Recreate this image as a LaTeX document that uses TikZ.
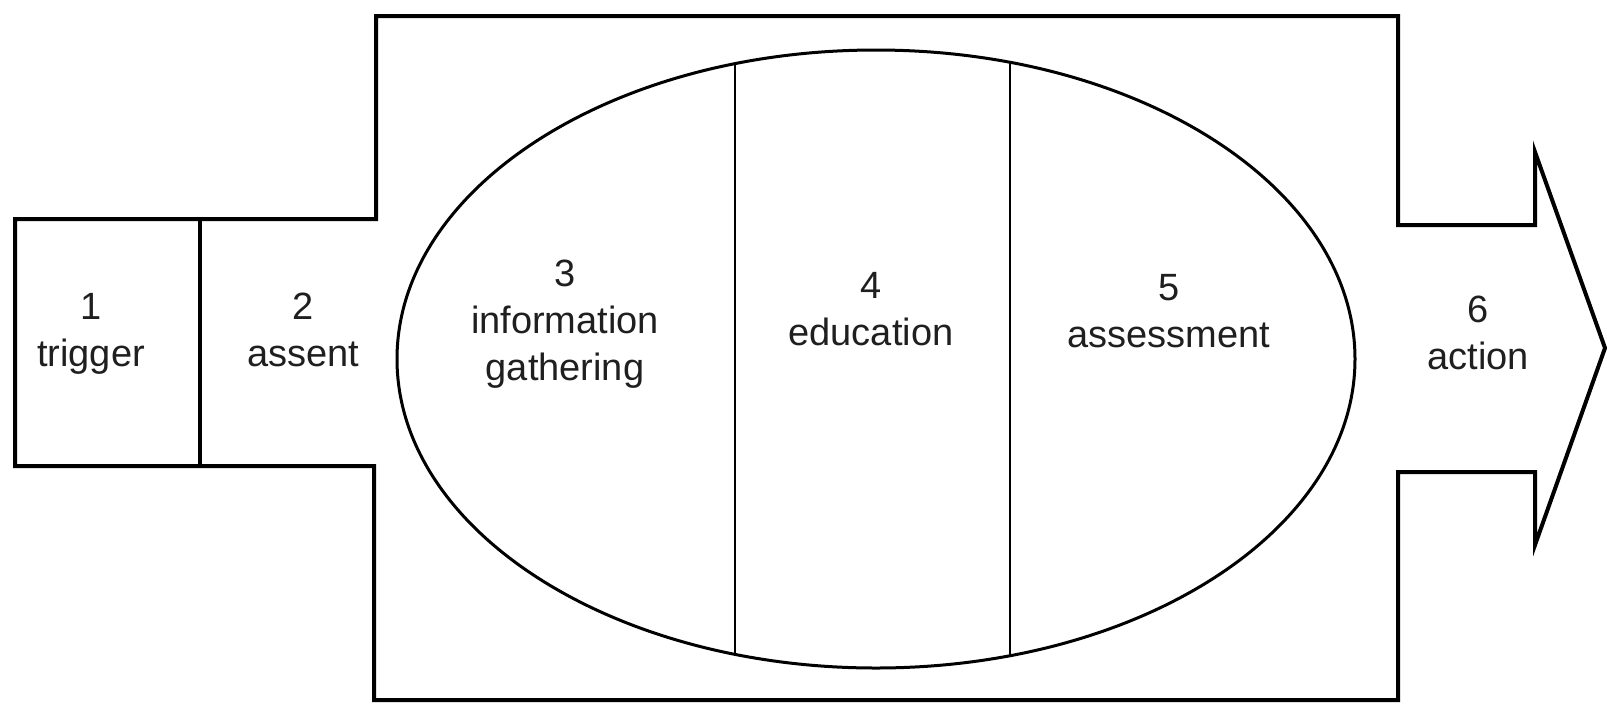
\documentclass[tikz,border=0pt]{standalone}
\usepackage{fontspec}
\setmainfont{Liberation Sans}
\usepackage{tikz}
\usetikzlibrary{shapes.geometric}
\tikzset{
    every node/.style={inner sep=0pt, align=center, anchor=base,
    	font=\fontsize{19}{23.5}\selectfont, text=black!88}
}
\tikzset{
    outline/.style={line width=2pt, line join=miter}
}
\tikzset{
	core/.style={ellipse, draw, line width=1.5pt, anchor=center,
		minimum width=479pt, minimum height=309pt, inner sep=0pt}
}

\begin{document}
\begin{tikzpicture}[x=0.5pt, y=-0.5pt]
	\useasboundingbox (0,0) rectangle (1607,703);
	\draw[outline] (15,219) -- (376,219) -- (376,16) -- (1398,16) -- (1398,225)
		-- (1535,225) -- (1535,152) -- (1605,348) -- (1535,545) -- (1535,472)
		-- (1398,472) -- (1398,700) -- (374,700) -- (374,466) -- (15,466) -- cycle;
	\draw[line width=1.8pt] (200,219) -- (200,466);

	\node (ellipse) [core] at (876,359) {};
	\begin{scope}
		\clip (876,359) ellipse [x radius=479, y radius=309];
		\draw[line width=1.2pt] (735,0) -- (735,703);
		\draw[line width=1.2pt] (1010,0) -- (1010,703);
	\end{scope}

	\node (trigger) at (91,366) {1\\trigger};
	\node (assent) at (303,366) {2\\assent};
	\node (gathering) at (565,380) {3\\information\\gathering};
	\node (education) at (871,345) {4\\education};
	\node (assessment) at (1169,347) {5\\assessment};
	\node (action) at (1478,369) {6\\action};
\end{tikzpicture}
\end{document}
